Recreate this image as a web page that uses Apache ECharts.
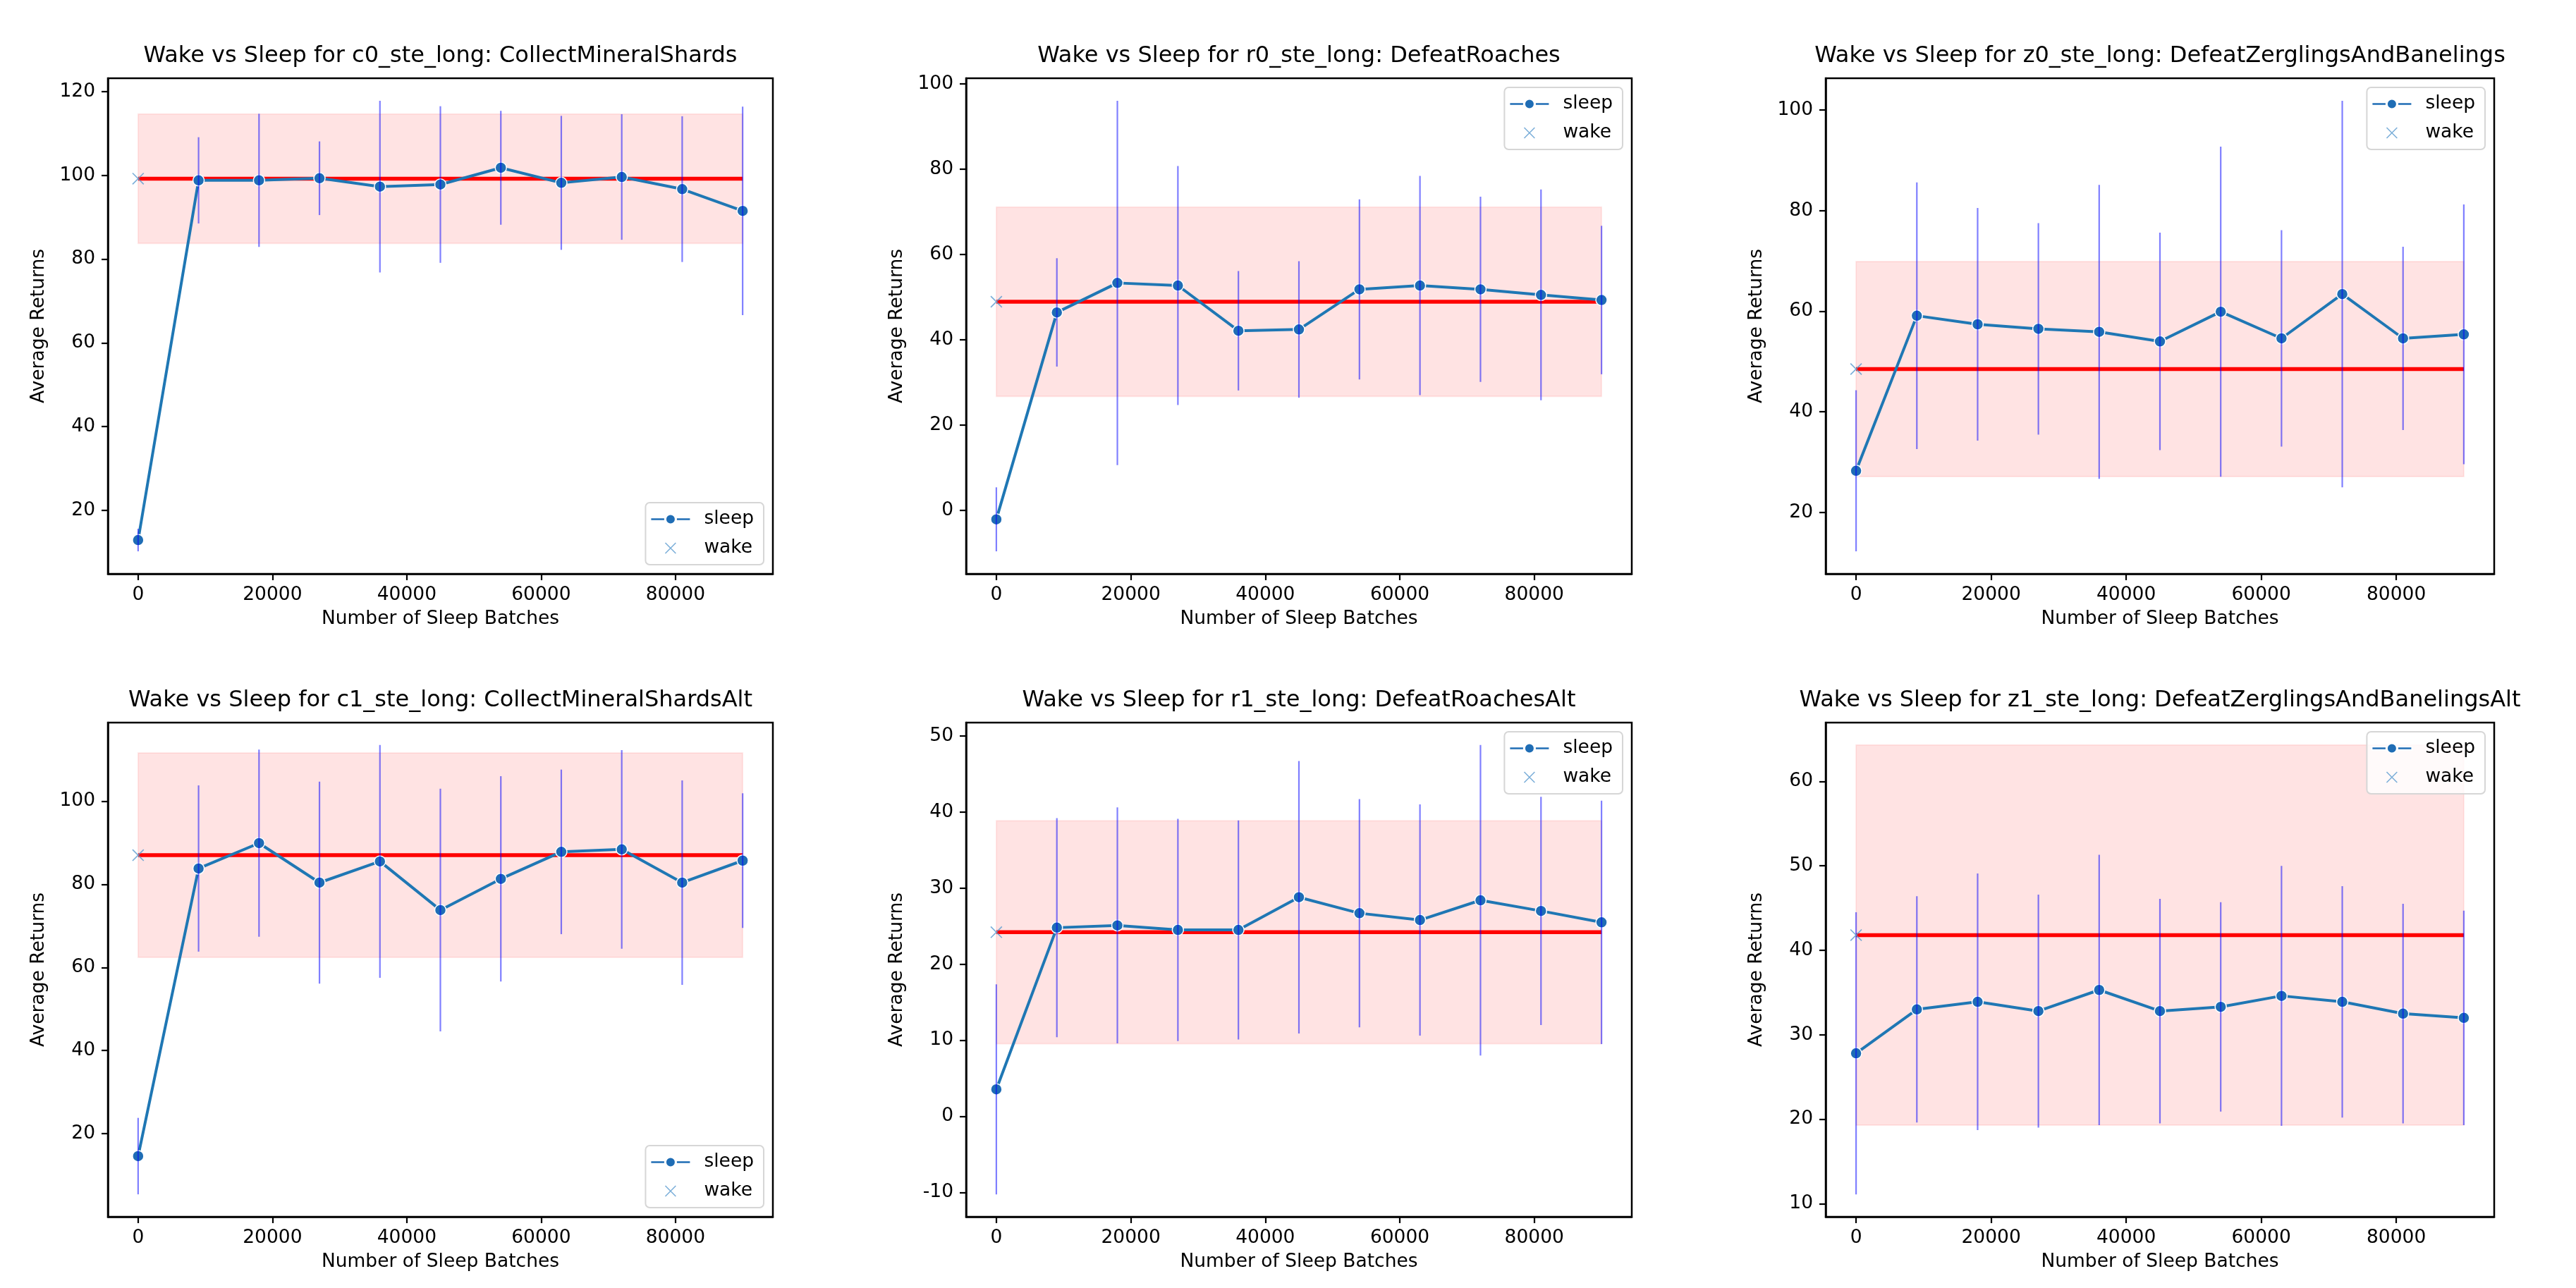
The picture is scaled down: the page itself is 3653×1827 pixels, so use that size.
<!DOCTYPE html>
<html>
<head>
<meta charset="utf-8">
<script src="https://cdn.jsdelivr.net/npm/echarts@6/dist/echarts.min.js"></script>
<style>html,body{margin:0;padding:0;background:#fff}#c{width:3653px;height:1827px}</style>
</head>
<body>
<div id="c"></div>
<script>
const batches = [0, 9000, 18000, 27000, 36000, 45000, 54000, 63000, 72000, 81000, 90000];
const xTicks = [0, 20000, 40000, 60000, 80000];
const titles = [
  'Wake vs Sleep for c0_ste_long: CollectMineralShards',
  'Wake vs Sleep for r0_ste_long: DefeatRoaches',
  'Wake vs Sleep for z0_ste_long: DefeatZerglingsAndBanelings',
  'Wake vs Sleep for c1_ste_long: CollectMineralShardsAlt',
  'Wake vs Sleep for r1_ste_long: DefeatRoachesAlt',
  'Wake vs Sleep for z1_ste_long: DefeatZerglingsAndBanelingsAlt'
];
const c0Mean = [12.9, 98.8, 98.8, 99.3, 97.3, 97.8, 101.8, 98.2, 99.6, 96.7, 91.5];
const c0Err  = [2.7, 10.3, 15.9, 8.8, 20.5, 18.7, 13.6, 16.0, 15.0, 17.4, 24.9];
const r0Mean = [-2.1, 46.4, 53.3, 52.7, 42.1, 42.4, 51.8, 52.7, 51.8, 50.5, 49.3];
const r0Err  = [7.5, 12.7, 42.7, 28.0, 14.0, 16.0, 21.1, 25.7, 21.7, 24.7, 17.4];
const z0Mean = [28.3, 59.1, 57.4, 56.5, 55.9, 54.0, 59.9, 54.6, 63.4, 54.6, 55.4];
const z0Err  = [16.0, 26.5, 23.1, 21.0, 29.2, 21.6, 32.8, 21.5, 38.4, 18.2, 25.8];
const c1Mean = [14.6, 83.8, 89.9, 80.4, 85.5, 73.8, 81.3, 87.8, 88.4, 80.4, 85.7];
const c1Err  = [9.2, 20.0, 22.5, 24.3, 28.0, 29.2, 24.7, 19.8, 23.9, 24.6, 16.2];
const r1Mean = [3.55, 24.8, 25.1, 24.5, 24.5, 28.8, 26.7, 25.8, 28.4, 27.0, 25.5];
const r1Err  = [13.8, 14.4, 15.5, 14.6, 14.4, 17.9, 15.0, 15.2, 20.4, 15.0, 16.0];
const z1Mean = [27.8, 33.0, 33.9, 32.8, 35.3, 32.8, 33.3, 34.6, 33.9, 32.5, 32.0];
const z1Err  = [16.7, 13.4, 15.2, 13.8, 16.0, 13.3, 12.4, 15.4, 13.7, 13.0, 12.7];
const wakeMean = [99.2, 48.9, 48.5, 87.0, 24.2, 41.8];
const wakeStd  = [15.45, 22.2, 21.35, 24.6, 14.65, 22.5];
const c0Ticks = [20, 40, 60, 80, 100, 120];
const r0Ticks = [0, 20, 40, 60, 80, 100];
const z0Ticks = [20, 40, 60, 80, 100];
const c1Ticks = [20, 40, 60, 80, 100];
const r1Ticks = [-10, 0, 10, 20, 30, 40, 50];
const z1Ticks = [10, 20, 30, 40, 50, 60];
const legendAtBottom = [true, false, false, true, false, false];

const means = [c0Mean, r0Mean, z0Mean, c1Mean, r1Mean, z1Mean];
const errs = [c0Err, r0Err, z0Err, c1Err, r1Err, z1Err];
const yTicks = [c0Ticks, r0Ticks, z0Ticks, c1Ticks, r1Ticks, z1Ticks];

const W = 3653, H = 1827;
const colL = [153, 1370, 2589], colR = [1096, 2314, 3537];
const rowT = [111, 1025], rowB = [814, 1726];
const FONT = 'DejaVu Sans';
const TICKF = 26.5, LABF = 26.5, TITF = 32;
const XPATH = 'path://M0,0.7L0.7,0L10,9.3L9.3,10Z M9.3,0L10,0.7L0.7,10L0,9.3Z';
const SLEEPICON = 'path://M0,5.8L20.5,5.8L20.5,10.2L0,10.2Z M36.5,5.8L57,5.8L57,10.2L36.5,10.2Z M21.5,8A7,7 0 1 1 35.5,8A7,7 0 1 1 21.5,8Z';
const fmt = v => String(v);

const grids = [], xAxes = [], yAxes = [], titlesOpt = [], legends = [], series = [];
for (let i = 0; i < 6; i++) {
  const c = i % 3, r = Math.floor(i / 3);
  const L = colL[c], R = colR[c], T = rowT[r], B = rowB[r];
  grids.push({left: L, top: T, width: R - L, height: B - T, show: true,
    borderColor: '#000', borderWidth: 2.5, backgroundColor: 'transparent', containLabel: false});
  const m = means[i], e = errs[i];
  let lo = Infinity, hi = -Infinity;
  for (let k = 0; k < m.length; k++) { lo = Math.min(lo, m[k] - e[k]); hi = Math.max(hi, m[k] + e[k]); }
  lo = Math.min(lo, wakeMean[i] - wakeStd[i]); hi = Math.max(hi, wakeMean[i] + wakeStd[i]);
  const pad = (hi - lo) * 0.05;
  const xr = batches[batches.length - 1] - batches[0];
  xAxes.push({type: 'value', gridIndex: i, min: batches[0] - xr * 0.05, max: batches[batches.length - 1] + xr * 0.05,
    splitLine: {show: false},
    axisLine: {show: true, onZero: false, lineStyle: {color: '#000', width: 2.5}},
    axisTick: {show: true, length: 9, lineStyle: {color: '#000', width: 2.2}, customValues: xTicks},
    axisLabel: {show: true, margin: 17, fontFamily: FONT, fontSize: TICKF, color: '#000', customValues: xTicks, formatter: fmt},
    name: 'Number of Sleep Batches', nameLocation: 'middle', nameGap: 51,
    nameTextStyle: {fontFamily: FONT, fontSize: LABF, color: '#000'}});
  yAxes.push({type: 'value', gridIndex: i, min: lo - pad, max: hi + pad,
    splitLine: {show: false},
    axisLine: {show: true, onZero: false, lineStyle: {color: '#000', width: 2.5}},
    axisTick: {show: true, length: 9, lineStyle: {color: '#000', width: 2.2}, customValues: yTicks[i]},
    axisLabel: {show: true, margin: 18, fontFamily: FONT, fontSize: TICKF, color: '#000', customValues: yTicks[i], formatter: fmt},
    name: 'Average Returns', nameLocation: 'middle', nameGap: 84,
    nameTextStyle: {fontFamily: FONT, fontSize: LABF, color: '#000'}});
  titlesOpt.push({text: titles[i], left: (L + R) / 2, top: T - 47, textAlign: 'center', padding: 0,
    textStyle: {fontFamily: FONT, fontSize: TITF, fontWeight: 'normal', color: '#000'}});
  const leg = {orient: 'vertical', right: W - R + 13,
    data: [{name: 'sleep', icon: SLEEPICON}, {name: 'wake', icon: XPATH}],
    itemWidth: 57, itemHeight: 16, itemGap: 14,
    padding: [10, 14, 10, 6], backgroundColor: 'rgba(255,255,255,0.8)',
    borderColor: '#d6d6d6', borderWidth: 2, borderRadius: 6,
    textStyle: {fontFamily: FONT, fontSize: TICKF, color: '#000', padding: [0, 0, 0, 14]},
    selectedMode: false};
  if (legendAtBottom[i]) leg.bottom = H - B + 13; else leg.top = T + 13;
  legends.push(leg);

  series.push({type: 'custom', name: 'band' + i, xAxisIndex: i, yAxisIndex: i, z: 1, silent: true,
    data: [[batches[0], batches[batches.length - 1], wakeMean[i] - wakeStd[i], wakeMean[i] + wakeStd[i]]],
    renderItem: function (params, api) {
      const p1 = api.coord([api.value(0), api.value(3)]);
      const p2 = api.coord([api.value(1), api.value(2)]);
      return {type: 'rect', shape: {x: p1[0], y: p1[1], width: p2[0] - p1[0], height: p2[1] - p1[1]},
        style: {fill: 'rgba(255,0,0,0.11)', stroke: 'rgba(255,0,0,0.08)', lineWidth: 2}};
    }});
  series.push({type: 'line', name: 'wakeline' + i, xAxisIndex: i, yAxisIndex: i, z: 2, silent: true,
    data: [[batches[0], wakeMean[i]], [batches[batches.length - 1], wakeMean[i]]],
    symbol: 'none', lineStyle: {color: '#ff0000', width: 5.5}, animation: false});
  series.push({type: 'line', name: 'sleep', xAxisIndex: i, yAxisIndex: i, z: 3,
    data: batches.map((x, k) => [x, m[k]]),
    symbol: 'circle', symbolSize: 16, showAllSymbol: true,
    lineStyle: {color: '#1f77b4', width: 4},
    itemStyle: {color: '#1f6db5', borderColor: '#fff', borderWidth: 1.5}, animation: false});
  series.push({type: 'custom', name: 'err' + i, xAxisIndex: i, yAxisIndex: i, z: 4, silent: true,
    data: batches.map((x, k) => [x, m[k] - e[k], m[k] + e[k]]),
    renderItem: function (params, api) {
      const p1 = api.coord([api.value(0), api.value(1)]);
      const p2 = api.coord([api.value(0), api.value(2)]);
      return {type: 'line', shape: {x1: p1[0], y1: p1[1], x2: p2[0], y2: p2[1]},
        style: {stroke: 'rgba(0,0,255,0.5)', lineWidth: 2.2}};
    }});
  series.push({type: 'scatter', name: 'wake', xAxisIndex: i, yAxisIndex: i, z: 5,
    data: [[batches[0], wakeMean[i]]], symbol: XPATH, symbolSize: 17,
    itemStyle: {color: '#5b9bd0'}, animation: false});
}

const chart = echarts.init(document.getElementById('c'), null, {renderer: 'canvas'});
chart.setOption({
  backgroundColor: '#fff', animation: false,
  title: titlesOpt, grid: grids, xAxis: xAxes, yAxis: yAxes, legend: legends, series: series
});
</script>
</body>
</html>
